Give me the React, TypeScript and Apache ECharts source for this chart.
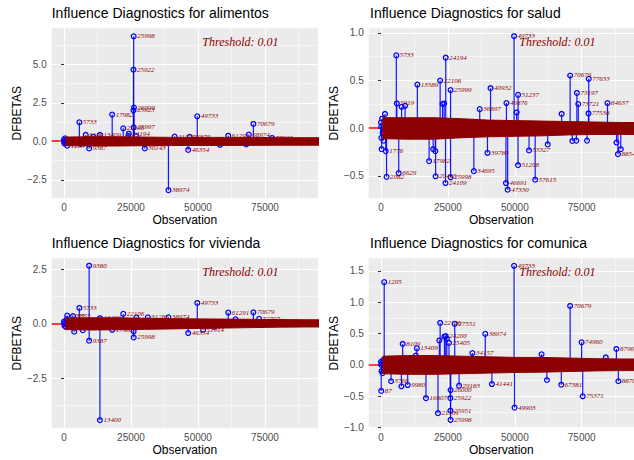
import React, { useEffect, useRef } from "react";
import * as echarts from "echarts";

// ---------- data ----------
const VARIABLES = ["alimentos", "salud", "vivienda", "comunica"];
const THRESHOLD = 0.01;
const THRESHOLD_LABEL = "Threshold: 0.01";
const X_TICKS = [0, 25000, 50000, 75000];
const X_MIN = -4590;
const X_MAX = [94780, 94540, 94780, 94540];
const Y_MIN = [-3.7, -0.735, -4.8, -1.01];
const Y_MAX = [7.35, 1.048, 3.0, 1.7];
const Y_STEP = [2.5, 0.5, 2.5, 0.5];
const ALIMENTOS_Y_TICKS = [-2.5, 0, 2.5, 5];
const SALUD_Y_TICKS = [-0.5, 0, 0.5, 1];
const VIVIENDA_Y_TICKS = [-2.5, 0, 2.5];
const COMUNICA_Y_TICKS = [-1, -0.5, 0, 0.5, 1, 1.5];

// labelled (influential) observations
const ALIMENTOS_IDS = [25998, 25922, 26099, 25923, 17982, 49733, 5733, 70679, 25997, 22106, 24194, 8109, 13409, 68974, 61291, 46876, 41275, 77633, 1205, 9387, 30143, 46354, 38974];
const ALIMENTOS_VALUES = [6.83, 4.66, 2.2, 2.02, 1.74, 1.63, 1.24, 1.13, 0.91, 0.85, 0.5, 0.42, 0.42, 0.44, 0.37, 0.3, 0.31, 0.22, -0.28, -0.46, -0.46, -0.56, -3.17];
const SALUD_IDS = [49733, 5733, 24194, 70679, 77633, 22106, 13589, 40932, 25999, 73197, 51237, 84637, 46876, 73721, 5919, 36897, 77538, 1776, 2082, 6629, 17982, 20415, 25998, 24109, 34695, 39789, 46691, 47330, 51208, 55327, 57615, 88540];
const SALUD_VALUES = [0.965, 0.764, 0.74, 0.553, 0.518, 0.5, 0.458, 0.42, 0.4, 0.37, 0.35, 0.264, 0.264, 0.254, 0.26, 0.2, 0.155, -0.24, -0.51, -0.47, -0.345, -0.504, -0.515, -0.575, -0.45, -0.258, -0.575, -0.645, -0.388, -0.233, -0.54, -0.272];
const VIVIENDA_IDS = [9380, 49733, 5733, 70679, 61291, 22106, 38974, 31285, 72797, 1205, 3355, 13409, 9387, 25998, 46354, 51914, 17982, 13400];
const VIVIENDA_VALUES = [2.66, 0.95, 0.72, 0.52, 0.51, 0.45, 0.29, 0.29, 0.22, 0.37, 0.35, 0.25, -0.78, -0.63, -0.43, -0.28, -0.28, -4.43];
const COMUNICA_IDS = [49733, 1205, 70679, 22106, 27551, 38974, 24200, 25405, 74960, 8109, 13409, 87966, 34157, 87, 16807, 21301, 25922, 25951, 25998, 26000, 49903, 75371, 67381, 41441, 29183, 88700, 3766, 9980];
const COMUNICA_VALUES = [1.58, 1.32, 0.94, 0.67, 0.655, 0.495, 0.46, 0.35, 0.36, 0.335, 0.265, 0.255, 0.19, -0.415, -0.53, -0.77, -0.53, -0.73, -0.875, -0.4, -0.68, -0.5, -0.315, -0.305, -0.33, -0.26, -0.26, -0.32];

// other observations visible as circles next to the label band
const ALIMENTOS_SMALL_IDS = [1, 100, 200, 300, 400, 600, 900, 6300, 11000, 24000, 27000, 58200, 68000];
const ALIMENTOS_SMALL_VALUES = [0.12, -0.08, -0.14, 0.02, 0.2, -0.06, 0.05, -0.17, 0.3, 0.35, 0.34, -0.22, -0.2];
const SALUD_SMALL_IDS = [1, 100, 150, 250, 400, 600, 800, 1000, 1500, 7700, 9000, 19500, 20300, 23000, 23600, 50700, 62300, 67500, 71500, 73000, 77000, 88000, 89600];
const SALUD_SMALL_VALUES = [0.06, 0.02, -0.1, -0.22, 0.1, -0.05, -0.02, -0.13, 0.15, 0.225, 0.235, -0.22, -0.24, 0.254, 0.26, 0.165, -0.17, 0.15, -0.134, -0.13, -0.13, -0.15, -0.22];
const VIVIENDA_SMALL_IDS = [1, 100, 200, 400, 700, 1000, 3800, 7000, 26000, 27000, 56000, 64000];
const VIVIENDA_SMALL_VALUES = [0.1, -0.02, -0.1, 0.05, -0.15, 0.2, -0.37, -0.3, -0.35, 0.28, -0.15, 0.2];
const COMUNICA_SMALL_IDS = [1, 100, 200, 400, 600, 900, 7640, 13000, 21800, 23700, 24600, 60000, 62000, 84000];
const COMUNICA_SMALL_VALUES = [0.05, 0.0, -0.1, 0.03, -0.13, 0.08, -0.34, 0.15, 0.39, 0.45, 0.42, 0.17, -0.24, 0.12];

// envelope of the dense band formed by the labels of all other observations
const BAND_X = [700, 10000, 20000, 30000, 40000, 50000, 60000, 70000, 80000, 90000, 96000];
const ALIMENTOS_BAND_UPPER = [0.28, 0.3, 0.3, 0.28, 0.26, 0.26, 0.26, 0.26, 0.24, 0.24, 0.24];
const ALIMENTOS_BAND_LOWER = [-0.28, -0.3, -0.3, -0.28, -0.27, -0.27, -0.26, -0.26, -0.25, -0.25, -0.25];
const SALUD_BAND_UPPER = [0.11, 0.11, 0.11, 0.1, 0.085, 0.08, 0.075, 0.07, 0.065, 0.06, 0.06];
const SALUD_BAND_LOWER = [-0.11, -0.115, -0.115, -0.1, -0.09, -0.085, -0.08, -0.07, -0.065, -0.065, -0.065];
const VIVIENDA_BAND_UPPER = [0.25, 0.27, 0.27, 0.25, 0.23, 0.22, 0.21, 0.2, 0.19, 0.18, 0.18];
const VIVIENDA_BAND_LOWER = [-0.27, -0.29, -0.28, -0.26, -0.24, -0.22, -0.2, -0.18, -0.16, -0.15, -0.15];
const COMUNICA_BAND_UPPER = [0.14, 0.15, 0.15, 0.14, 0.13, 0.12, 0.12, 0.11, 0.1, 0.095, 0.095];
const COMUNICA_BAND_LOWER = [-0.14, -0.15, -0.15, -0.14, -0.13, -0.12, -0.115, -0.105, -0.095, -0.09, -0.09];

const PANEL_DATA = [
  { ids: ALIMENTOS_IDS, values: ALIMENTOS_VALUES, smallIds: ALIMENTOS_SMALL_IDS, smallValues: ALIMENTOS_SMALL_VALUES, upper: ALIMENTOS_BAND_UPPER, lower: ALIMENTOS_BAND_LOWER, yTicks: ALIMENTOS_Y_TICKS },
  { ids: SALUD_IDS, values: SALUD_VALUES, smallIds: SALUD_SMALL_IDS, smallValues: SALUD_SMALL_VALUES, upper: SALUD_BAND_UPPER, lower: SALUD_BAND_LOWER, yTicks: SALUD_Y_TICKS },
  { ids: VIVIENDA_IDS, values: VIVIENDA_VALUES, smallIds: VIVIENDA_SMALL_IDS, smallValues: VIVIENDA_SMALL_VALUES, upper: VIVIENDA_BAND_UPPER, lower: VIVIENDA_BAND_LOWER, yTicks: VIVIENDA_Y_TICKS },
  { ids: COMUNICA_IDS, values: COMUNICA_VALUES, smallIds: COMUNICA_SMALL_IDS, smallValues: COMUNICA_SMALL_VALUES, upper: COMUNICA_BAND_UPPER, lower: COMUNICA_BAND_LOWER, yTicks: COMUNICA_Y_TICKS },
];

// ---------- layout / style ----------
const GRIDS = [
  { left: 51.7, top: 28.3, width: 266.3, height: 170 },
  { left: 368.7, top: 28.3, width: 265.3, height: 170 },
  { left: 51.7, top: 258.3, width: 266.3, height: 170 },
  { left: 368.7, top: 258.3, width: 265.3, height: 170 },
];
const TITLE_LEFT = [51.7, 370, 51.7, 370];
const SANS = "'Liberation Sans', Arial, Helvetica, sans-serif";
const SERIF = "'Liberation Serif', 'Times New Roman', serif";
const DARKRED = "#8B0000";
const BLUE = "#0000FF";

function onStep(v: number, step: number) {
  const r = v / step;
  return Math.abs(r - Math.round(r)) < 1e-6;
}

function buildOption() {
  const xAxis: any[] = [];
  const yAxis: any[] = [];
  const series: any[] = [];
  const graphic: any[] = [];
  const title: any[] = [];

  PANEL_DATA.forEach((pd, i) => {
    const g = GRIDS[i];
    title.push({
      text: `Influence Diagnostics for ${VARIABLES[i]}`,
      left: TITLE_LEFT[i],
      top: g.top - 22,
      padding: 0,
      textStyle: { fontFamily: SANS, fontSize: 14, fontWeight: "normal", color: "#000" },
    });
    xAxis.push({
      type: "value",
      gridIndex: i,
      min: X_MIN,
      max: X_MAX[i],
      minInterval: 25000,
      maxInterval: 25000,
      axisLine: { show: false },
      axisTick: { show: true, length: 3, customValues: X_TICKS, lineStyle: { color: "#333333", width: 1 } },
      axisLabel: {
        color: "#4D4D4D",
        fontFamily: SANS,
        fontSize: 10,
        margin: 4,
        customValues: X_TICKS,
        formatter: (v: number) => (onStep(v, 25000) ? String(Math.round(v)) : ""),
      },
      splitLine: { show: true, lineStyle: { color: "#FFFFFF", width: 1.1 } },
      minorTick: { show: false, splitNumber: 2 },
      minorSplitLine: { show: true, lineStyle: { color: "#FFFFFF", width: 0.5 } },
      name: "Observation",
      nameLocation: "middle",
      nameGap: 16,
      nameTextStyle: { fontFamily: SANS, fontSize: 12, color: "#000" },
    });
    const step = Y_STEP[i];
    yAxis.push({
      type: "value",
      gridIndex: i,
      min: Y_MIN[i],
      max: Y_MAX[i],
      minInterval: step,
      maxInterval: step,
      axisLine: { show: false },
      axisTick: { show: true, length: 3, customValues: pd.yTicks, lineStyle: { color: "#333333", width: 1 } },
      axisLabel: {
        color: "#4D4D4D",
        fontFamily: SANS,
        fontSize: 10,
        margin: 5,
        customValues: pd.yTicks,
        formatter: (v: number) => (onStep(v, step) ? v.toFixed(1).replace("-", "\u2212") : ""),
      },
      splitLine: { show: true, lineStyle: { color: "#FFFFFF", width: 1.1 } },
      minorTick: { show: false, splitNumber: 2 },
      minorSplitLine: { show: true, lineStyle: { color: "#FFFFFF", width: 0.5 } },
      name: "DFBETAS",
      nameLocation: "middle",
      nameGap: 27,
      nameTextStyle: { fontFamily: SANS, fontSize: 12, color: "#000" },
    });

    const points = pd.ids
      .map((id, k) => [id, pd.values[k]])
      .concat(pd.smallIds.map((id, k) => [id, pd.smallValues[k]]));

    // stems + open circles
    series.push({
      type: "custom",
      name: `${VARIABLES[i]}-points`,
      xAxisIndex: i,
      yAxisIndex: i,
      z: 2,
      clip: true,
      silent: true,
      encode: { x: 0, y: 1 },
      data: points,
      renderItem: (params: any, api: any) => {
        const x = api.value(0);
        const y = api.value(1);
        const p0 = api.coord([x, 0]);
        const p1 = api.coord([x, y]);
        return {
          type: "group",
          children: [
            { type: "line", shape: { x1: p0[0], y1: p0[1], x2: p1[0], y2: p1[1] }, style: { stroke: BLUE, lineWidth: 1.2, opacity: 0.9 } },
            { type: "circle", shape: { cx: p1[0], cy: p1[1], r: 2.4 }, style: { fill: "none", stroke: BLUE, lineWidth: 1.25 } },
          ],
        };
      },
      markLine: {
        silent: true,
        z: 1,
        symbol: "none",
        label: { show: false },
        lineStyle: { color: "#FF0000", width: 1.5, type: "solid" },
        data: [{ yAxis: THRESHOLD }],
      },
    });

    // dense band of overlapping labels
    const bandData = BAND_X.map((x, k) => [x, pd.lower[k], pd.upper[k]]);
    series.push({
      type: "custom",
      name: `${VARIABLES[i]}-band`,
      xAxisIndex: i,
      yAxisIndex: i,
      z: 3,
      clip: true,
      silent: true,
      encode: { x: 0, y: [1, 2] },
      data: bandData,
      renderItem: (params: any, api: any) => {
        if (params.dataIndex !== 0) return null;
        const pts: number[][] = [];
        bandData.forEach((d) => pts.push(api.coord([d[0], d[2]])));
        for (let k = bandData.length - 1; k >= 0; k--) pts.push(api.coord([bandData[k][0], bandData[k][1]]));
        return { type: "polygon", shape: { points: pts }, style: { fill: DARKRED, stroke: DARKRED, lineWidth: 1 } };
      },
    });

    // labels of influential observations
    series.push({
      type: "custom",
      name: `${VARIABLES[i]}-labels`,
      xAxisIndex: i,
      yAxisIndex: i,
      z: 4,
      clip: true,
      silent: true,
      encode: { x: 0, y: 1 },
      data: pd.ids.map((id, k) => [id, pd.values[k]]),
      renderItem: (params: any, api: any) => {
        const x = api.value(0);
        const y = api.value(1);
        const p = api.coord([x, y]);
        return {
          type: "text",
          x: p[0] + 3.5,
          y: p[1],
          style: {
            text: String(x),
            fill: DARKRED,
            fontFamily: SERIF,
            fontStyle: "italic",
            fontSize: 7,
            align: "left",
            verticalAlign: "middle",
          },
        };
      },
    });

    graphic.push({
      type: "text",
      x: g.left + 188.7,
      y: g.top + 13.4,
      z: 100,
      silent: true,
      style: {
        text: THRESHOLD_LABEL,
        fill: DARKRED,
        fontFamily: SERIF,
        fontStyle: "italic",
        fontSize: 12,
        align: "center",
        verticalAlign: "middle",
      },
    });
  });

  return {
    animation: false,
    backgroundColor: "#FFFFFF",
    title,
    grid: GRIDS.map((g) => ({ ...g, show: true, backgroundColor: "#EBEBEB", borderWidth: 0, containLabel: false })),
    xAxis,
    yAxis,
    series,
    graphic,
  };
}

export default function App() {
  const ref = useRef<HTMLDivElement>(null);
  useEffect(() => {
    if (!ref.current) return;
    const chart = echarts.init(ref.current, null, { renderer: "svg" });
    chart.setOption(buildOption() as any);
    return () => chart.dispose();
  }, []);
  return (
    <div
      ref={ref}
      style={{ position: "fixed", left: 0, top: 0, width: 634, height: 460, background: "#fff" }}
    />
  );
}
